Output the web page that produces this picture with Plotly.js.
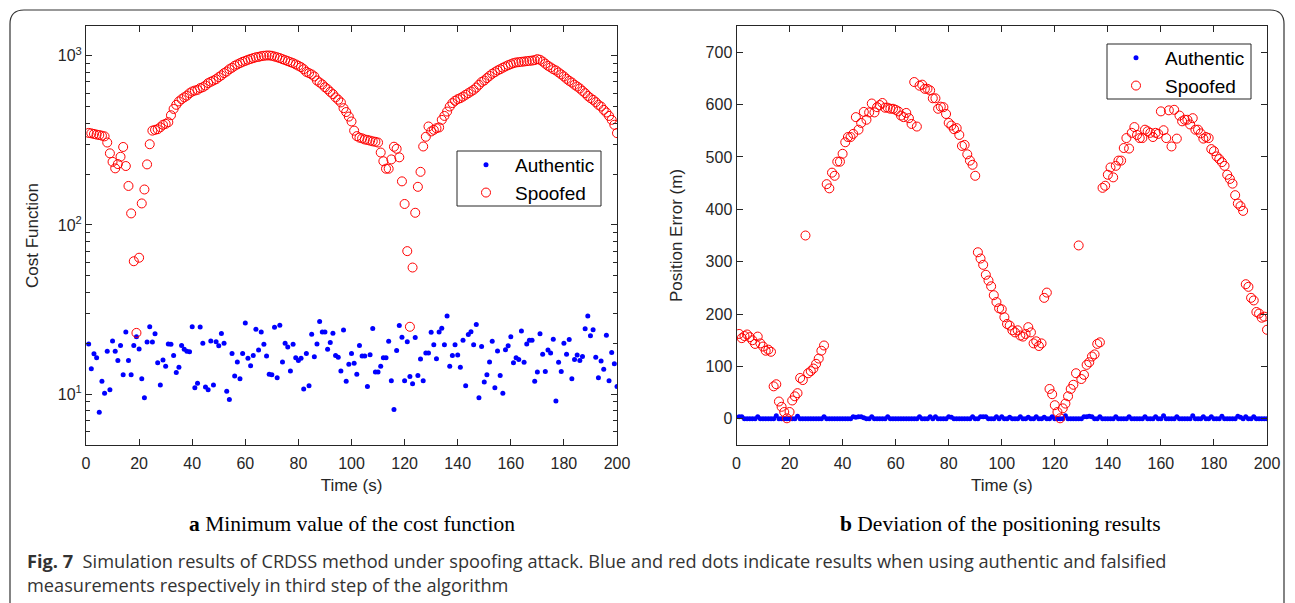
<!DOCTYPE html>
<html>
<head>
<meta charset="utf-8">
<script src="https://cdn.plot.ly/plotly-3.0.1.min.js"></script>
<style>
html,body{margin:0;padding:0;background:#fff;}
#chart{width:1295px;height:603px;}
</style>
</head>
<body>
<div id="chart"></div>
<script>
// ---- Data ----
const TIME_S = [1,2,3,4,5,6,7,8,9,10,11,12,13,14,15,16,17,18,19,20,
21,22,23,24,25,26,27,28,29,30,31,32,33,34,35,36,37,38,39,40,
41,42,43,44,45,46,47,48,49,50,51,52,53,54,55,56,57,58,59,60,
61,62,63,64,65,66,67,68,69,70,71,72,73,74,75,76,77,78,79,80,
81,82,83,84,85,86,87,88,89,90,91,92,93,94,95,96,97,98,99,100,
101,102,103,104,105,106,107,108,109,110,111,112,113,114,115,116,117,118,119,120,
121,122,123,124,125,126,127,128,129,130,131,132,133,134,135,136,137,138,139,140,
141,142,143,144,145,146,147,148,149,150,151,152,153,154,155,156,157,158,159,160,
161,162,163,164,165,166,167,168,169,170,171,172,173,174,175,176,177,178,179,180,
181,182,183,184,185,186,187,188,189,190,191,192,193,194,195,196,197,198,199,200];

// (a) cost function, authentic measurements
const COST_AUTHENTIC = [19.8,14.1,17.3,16.4,7.8,11.9,10.1,17.9,10.6,20.6,
17.9,15.8,19.4,13.0,23.3,15.8,13.0,19.4,21.8,18.5,
12.3,9.5,20.3,25.0,20.3,22.7,15.3,11.3,15.9,14.6,
19.8,19.7,16.9,13.4,14.4,19.4,18.4,17.9,17.8,25.0,
10.9,11.6,24.9,20.0,11.0,10.6,20.6,11.3,20.4,19.3,
22.8,20.0,10.4,9.3,17.4,12.8,15.5,12.3,17.4,26.3,
16.3,14.7,16.9,24.2,18.2,23.3,19.7,16.8,13.1,13.0,
24.8,12.5,25.5,15.5,20.0,19.0,13.7,19.7,16.4,15.8,
16.3,10.7,17.4,11.2,22.6,16.6,19.8,26.9,23.3,23.3,
18.4,20.2,22.9,16.9,16.5,13.7,23.9,11.9,15.0,17.4,
15.2,13.1,19.4,16.8,16.8,11.1,17.1,24.4,13.5,13.5,
14.6,16.4,16.4,20.5,12.0,8.1,18.1,25.4,21.7,12.0,
20.4,12.7,11.5,21.6,12.9,16.1,12.0,17.5,17.5,23.2,
19.6,16.2,23.3,24.5,19.6,28.9,14.6,16.9,19.6,17.0,
14.4,20.8,11.2,22.5,23.4,19.6,25.8,9.5,19.1,11.8,
13.0,15.5,20.5,10.9,18.0,12.9,10.1,18.3,19.3,21.8,
15.3,16.4,16.0,23.6,15.4,19.8,20.8,20.8,11.9,13.5,
22.7,17.2,13.6,18.2,17.5,21.1,9.1,15.4,13.6,20.0,
17.2,21.0,12.3,16.0,17.0,15.8,16.7,24.3,28.9,22.1,
24.0,16.5,12.5,15.7,14.0,22.3,12.0,17.6,15.1,11.1];

// (a) cost function, spoofed measurements
const COST_SPOOFED = [350,348,345,342,340,337,334,307,265,236,
216,229,253,289,223,170,117,61,23,64,
134,162,228,300,361,365,368,378,391,396,
405,445,485,513,537,554,568,581,601,615,
623,629,644,652,667,689,702,714,727,748,
766,790,807,833,850,873,889,905,921,933,
947,958,969,980,985,995,1000,1004,1004,1000,
990,980,969,955,943,930,917,905,889,873,
857,833,803,790,776,755,714,695,677,652,
634,612,593,568,550,530,490,465,437,409,
361,335,328,325,320,318,315,312,310,307,
268,238,215,215,244,290,282,251,181,133,
70,25,56,118,168,206,291,332,382,357,
365,373,377,418,441,468,501,525,542,554,
562,574,588,601,615,629,649,674,700,714,
738,761,783,800,819,833,850,865,880,892,
905,913,917,921,925,930,933,937,943,955,
947,925,898,873,854,833,819,797,776,755,
731,711,695,674,658,641,620,601,579,562,
549,532,513,501,479,462,441,418,391,349];

// (b) position error, authentic measurements
const POS_AUTHENTIC = [4,4,0,0,0,0,0,4,0,0,
0,0,0,0,6,0,0,0,0,0,
0,0,5,0,0,0,0,0,0,0,
0,0,4,0,0,0,0,0,0,0,
0,0,0,4,3,4,4,2,0,0,
4,0,0,0,0,0,4,0,0,0,
0,0,0,0,0,0,0,0,4,0,
0,0,4,0,4,0,0,0,0,4,
3,0,0,0,0,0,0,0,4,0,
0,4,4,4,0,0,0,4,0,4,
0,0,3,0,0,0,4,0,0,3,
0,0,4,0,0,3,0,0,4,0,
0,0,0,6,0,0,0,0,0,0,
4,4,5,4,0,0,4,0,0,0,
0,0,4,0,0,0,0,4,0,0,
0,0,0,4,0,0,0,4,0,0,
6,0,0,0,0,4,0,0,0,0,
0,6,0,0,0,4,0,0,4,0,
0,0,5,0,0,0,0,0,5,3,
0,4,0,0,4,0,0,0,0,0];

// (b) position error, spoofed measurements
const POS_SPOOFED = [162,154,158,161,156,150,143,157,144,138,
130,132,128,62,66,33,23,13,1,13,
35,43,49,78,74,350,87,91,96,105,
115,130,140,448,440,470,464,491,491,506,
528,538,538,544,576,552,565,586,571,585,
602,585,595,599,603,594,594,592,592,590,
587,579,576,584,574,563,643,558,636,638,
630,630,627,612,612,592,596,595,582,565,
560,553,555,542,521,523,505,493,485,464,
318,306,294,275,264,253,236,223,211,209,
194,181,178,169,165,169,159,157,162,175,
165,144,148,139,144,231,241,57,47,26,
13,1,20,29,43,57,65,87,331,76,
84,103,108,119,123,143,146,441,445,466,
480,461,483,493,493,517,536,516,546,557,
542,536,536,552,549,546,538,546,544,587,
551,536,589,520,590,535,579,568,571,571,
562,574,552,552,545,535,538,536,515,511,
501,496,490,483,466,458,449,427,411,406,
397,257,252,231,226,204,201,193,195,170];

const SERIES_NAMES = ['Authentic', 'Spoofed'];
const X_TICKS = [0,20,40,60,80,100,120,140,160,180,200];
const COST_TICKS = [10,100,1000];
const COST_TICK_TEXT = ['10<sup>1</sup>','10<sup>2</sup>','10<sup>3</sup>'];
const COST_MINOR = [5,6,7,8,9,20,30,40,50,60,70,80,90,200,300,400,500,600,700,800,900];
const POS_TICKS = [0,100,200,300,400,500,600,700];
const PANEL_CAPTIONS = ['<b>a</b> Minimum value of the cost function', '<b>b</b> Deviation of the positioning results'];
const FIG_CAPTION_1 = '<b>Fig. 7</b>  Simulation results of CRDSS method under spoofing attack. Blue and red dots indicate results when using authentic and falsified';
const FIG_CAPTION_2 = 'measurements respectively in third step of the algorithm';

// ---- Layout helpers ----
const W = 1295, H = 603;
const px = v => v / W;
const py = v => 1 - v / H;
const AX = '#262626';
const SANS = 'Liberation Sans, Arial, sans-serif';

const blue = {color:'#0000ff', size:5, symbol:'circle'};
const red = {color:'#ff0000', size:9, symbol:'circle-open', line:{color:'#ff0000', width:1}};

const traces = [
  {x:TIME_S, y:COST_AUTHENTIC, type:'scatter', mode:'markers', name:SERIES_NAMES[0], marker:blue, xaxis:'x', yaxis:'y', legend:'legend'},
  {x:TIME_S, y:COST_SPOOFED, type:'scatter', mode:'markers', name:SERIES_NAMES[1], marker:red, xaxis:'x', yaxis:'y', legend:'legend'},
  {x:TIME_S, y:POS_AUTHENTIC, type:'scatter', mode:'markers', name:SERIES_NAMES[0], marker:blue, xaxis:'x2', yaxis:'y2', legend:'legend2'},
  {x:TIME_S, y:POS_SPOOFED, type:'scatter', mode:'markers', name:SERIES_NAMES[1], marker:red, xaxis:'x2', yaxis:'y2', legend:'legend2'}
];

function xAxis(dom) {
  return {
    domain: dom, range:[0,200], tickmode:'array', tickvals:X_TICKS,
    ticks:'inside', ticklen:6, tickcolor:AX, showline:true, linecolor:AX, linewidth:1,
    mirror:'ticks', showgrid:false, zeroline:false, ticklabelstandoff:4,
    tickfont:{family:SANS, size:16, color:AX},
    title:{text:'Time (s)', font:{family:SANS, size:17, color:AX}, standoff:7}
  };
}
const yDom = [py(445), py(26)];

const legendStyle = {
  xanchor:'left', yanchor:'top', bgcolor:'rgba(0,0,0,0)', borderwidth:0, itemwidth:48,
  font:{family:SANS, size:19, color:'#000'}, tracegroupgap:0
};

// legend frames (drawn as boxes behind the legend entries)
function box(x0, y0, x1, y1) {
  return {type:'rect', xref:'paper', yref:'paper', layer:'above',
    x0:px(x0), x1:px(x1), y0:py(y1), y1:py(y0),
    line:{color:AX, width:1}, fillcolor:'#ffffff'};
}

const layout = {
  width:W, height:H, margin:{l:0,r:0,t:0,b:0},
  paper_bgcolor:'#ffffff', plot_bgcolor:'#ffffff', showlegend:true,
  xaxis: Object.assign(xAxis([px(86), px(617)]), {anchor:'y'}),
  xaxis2: Object.assign(xAxis([px(736.5), px(1267)]), {anchor:'y2'}),
  yaxis: {
    domain:yDom, anchor:'x', type:'log', range:[Math.log10(5), Math.log10(1500)],
    tickmode:'array', tickvals:COST_TICKS, ticktext:COST_TICK_TEXT,
    ticks:'inside', ticklen:6, tickcolor:AX, showline:true, linecolor:AX, linewidth:1,
    mirror:'ticks', showgrid:false, zeroline:false,
    minor:{ticks:'inside', ticklen:4, tickcolor:AX, tickmode:'array', tickvals:COST_MINOR, showgrid:false},
    tickfont:{family:SANS, size:16, color:AX},
    title:{text:'Cost Function', font:{family:SANS, size:17, color:AX}, standoff:14}
  },
  yaxis2: {
    domain:yDom, anchor:'x2', range:[-50,750],
    tickmode:'array', tickvals:POS_TICKS,
    ticks:'inside', ticklen:6, tickcolor:AX, showline:true, linecolor:AX, linewidth:1,
    mirror:'ticks', showgrid:false, zeroline:false,
    tickfont:{family:SANS, size:16, color:AX},
    title:{text:'Position Error (m)', font:{family:SANS, size:17, color:AX}, standoff:18}
  },
  legend: Object.assign({x:px(457), y:py(146)}, legendStyle),
  legend2: Object.assign({x:px(1107), y:py(39)}, legendStyle),
  shapes: [
    {
      type:'path', xref:'paper', yref:'paper',
      path:`M ${px(10)},${py(603)} L ${px(10)},${py(24)} Q ${px(10)},${py(10)} ${px(24)},${py(10)} L ${px(1270)},${py(10)} Q ${px(1284)},${py(10)} ${px(1284)},${py(24)} L ${px(1284)},${py(603)}`,
      line:{color:'#333333', width:1.2}
    },
    box(457, 151, 601, 206),
    box(1107, 44, 1251, 99)
  ],
  annotations: [
    {xref:'paper', yref:'paper', x:px(352), y:py(524), xanchor:'center', yanchor:'middle', showarrow:false,
     text:PANEL_CAPTIONS[0], font:{family:'Liberation Serif, Times New Roman, serif', size:21.5, color:'#000'}},
    {xref:'paper', yref:'paper', x:px(1000), y:py(524), xanchor:'center', yanchor:'middle', showarrow:false,
     text:PANEL_CAPTIONS[1], font:{family:'Liberation Serif, Times New Roman, serif', size:21.5, color:'#000'}},
    {xref:'paper', yref:'paper', x:px(25), y:py(561), xanchor:'left', yanchor:'middle', showarrow:false,
     text:FIG_CAPTION_1, font:{family:'Open Sans, sans-serif', size:18.2, color:'#333'}},
    {xref:'paper', yref:'paper', x:px(25), y:py(585), xanchor:'left', yanchor:'middle', showarrow:false,
     text:FIG_CAPTION_2, font:{family:'Open Sans, sans-serif', size:18.2, color:'#333'}}
  ]
};

Plotly.newPlot('chart', traces, layout, {staticPlot:true, displayModeBar:false});
</script>
</body>
</html>
